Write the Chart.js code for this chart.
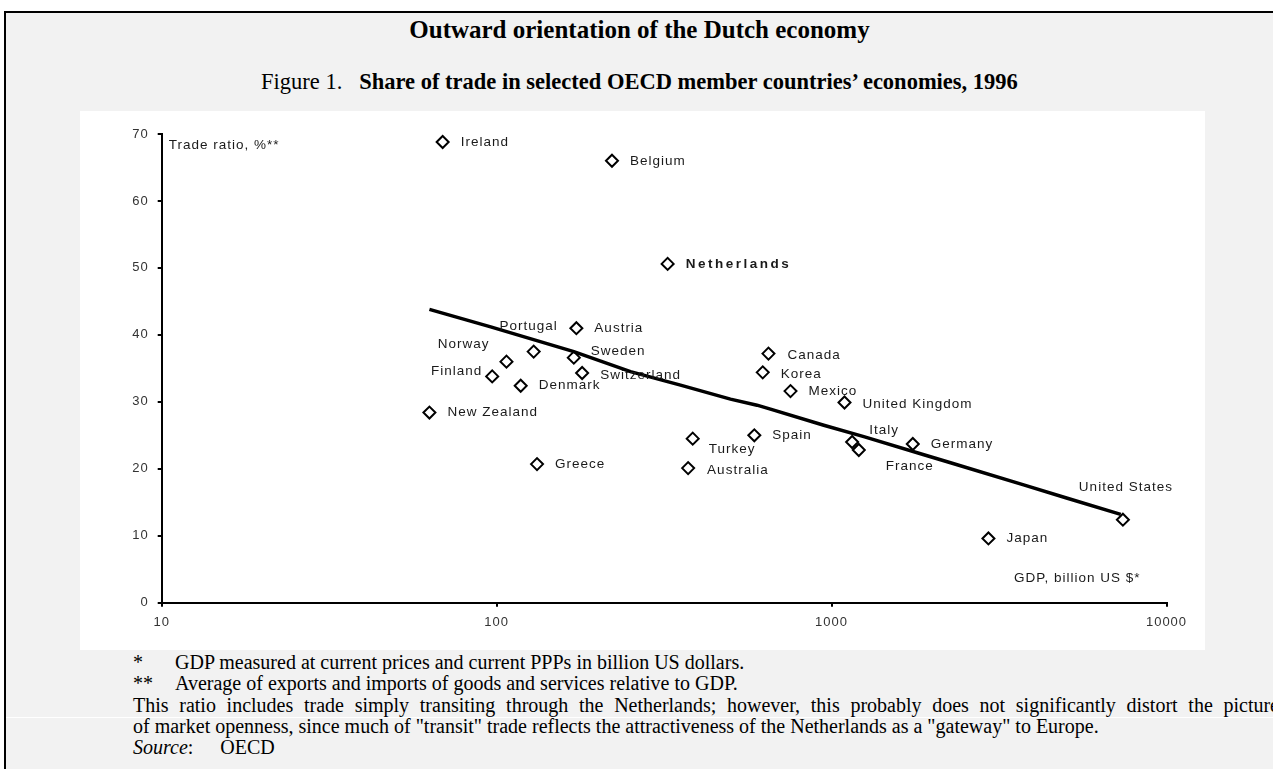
<!DOCTYPE html>
<html>
<head>
<meta charset="utf-8">
<script src="https://cdn.jsdelivr.net/npm/chart.js@4/dist/chart.umd.min.js"></script>
<style>
  html, body { margin: 0; padding: 0; background: #fff; }
  body { width: 1273px; height: 769px; position: relative; overflow: hidden;
         font-family: "Liberation Serif", "Times New Roman", serif; color: #000; }
  #frame { position: absolute; left: 4px; top: 11px; width: 1269px; height: 758px;
           background: #f2f2f2; border-left: 2px solid #000; border-top: 2px solid #000; }
  .title { position: absolute; left: 6px; width: 1267px; text-align: center;
           line-height: 26px; white-space: nowrap; }
  #panel { position: absolute; left: 80px; top: 111px; width: 1125px; height: 539px; background: #fff; }
  .note { position: absolute; left: 133px; font-size: 20px; line-height: 21px; white-space: nowrap; }
  .note .mark { display: inline-block; width: 42px; }
  .note .src { display: inline-block; margin-right: 27px; }
  .wide { width: 1146px; white-space: normal; text-align: justify; text-align-last: justify; }
  #rule { position: absolute; left: 6px; top: 717px; width: 1267px; height: 1px; background: #fff; }
</style>
</head>
<body>
<div id="frame"></div>
<div class="title" style="top:17px; font-size:25px; font-weight:bold;">Outward orientation of the Dutch economy</div>
<div class="title" style="top:69px; font-size:22.5px;">Figure 1.&nbsp;&nbsp; <b>Share of trade in selected OECD member countries’ economies, 1996</b></div>
<div id="panel"><canvas id="chart" width="1125" height="539"></canvas></div>
<div class="note" style="top:652px;"><span class="mark">*</span>GDP measured at current prices and current PPPs in billion US dollars.</div>
<div class="note" style="top:673px;"><span class="mark">**</span>Average of exports and imports of goods and services relative to GDP.</div>
<div class="note wide" style="top:695px;">This ratio includes trade simply transiting through the Netherlands; however, this probably does not significantly distort the picture</div>
<div id="rule"></div>
<div class="note" style="top:716px;">of market openness, since much of "transit" trade reflects the attractiveness of the Netherlands as a "gateway" to Europe.</div>
<div class="note" style="top:737px;"><span class="src"><i>Source</i>:</span>OECD</div>
<script>
// GDP (billion US$, PPP) against trade ratio (% of GDP), 1996
const countries = ['Ireland', 'Belgium', 'Netherlands', 'Austria', 'Portugal', 'Norway', 'Sweden',
  'Switzerland', 'Finland', 'Denmark', 'New Zealand', 'Greece', 'Canada', 'Korea', 'Mexico',
  'United Kingdom', 'Turkey', 'Spain', 'Australia', 'Italy', 'France', 'Germany', 'United States', 'Japan'];
const gdp = [69, 221, 324, 173, 129, 107, 170, 180, 97, 118, 63, 132, 648, 623, 754,
  1093, 385, 588, 373, 1152, 1206, 1748, 7410, 2940];
const tradeRatio = [68.8, 66.0, 50.6, 41.0, 37.5, 36.0, 36.6, 34.3, 33.8, 32.4, 28.4, 20.7, 37.2, 34.4, 31.6,
  29.9, 24.5, 25.0, 20.1, 24.0, 22.8, 23.7, 12.4, 9.6];

// fitted trend, sampled along GDP
const trendGdp = [63, 96, 170, 251, 354, 499, 599, 657, 948, 1248, 1886, 2266, 3745, 5058, 7300];
const trendRatio = [43.8, 41.2, 37.5, 34.5, 32.5, 30.4, 29.5, 28.9, 26.5, 24.8, 22.1, 20.9, 17.6, 15.6, 13.2];

const xTicks = [10, 100, 1000, 10000];
const yTicks = [0, 10, 20, 30, 40, 50, 60, 70];
const yTitle = 'Trade ratio, %**';
const xTitle = 'GDP, billion US $*';

// where each country name sits relative to its marker: [dx, dy, align]
const labelPlace = {
  'Portugal': [-5, -25, 'center'], 'Norway': [-17, -17, 'right'], 'Finland': [-10, -5, 'right'],
  'Sweden': [17, -6, 'left'], 'Turkey': [16, 11, 'left'], 'Italy': [17, -12, 'left'],
  'France': [27, 16, 'left'], 'United States': [3, -32, 'center'], 'Canada': [19, 2, 'left'],
  'Korea': [18, 2, 'left'], 'United Kingdom': [18, 2, 'left'], 'Australia': [19, 2, 'left'],
  'Switzerland': [18, 2, 'left']
};

const LABEL_FONT = '13.5px "Liberation Sans", Arial, sans-serif';

const pointLabels = {
  id: 'pointLabels',
  beforeDraw(chart) {
    chart.ctx.letterSpacing = '1px';
  },
  afterDatasetsDraw(chart) {
    const ctx = chart.ctx;
    const xs = chart.scales.x, ys = chart.scales.y;
    const area = chart.chartArea;
    ctx.save();
    ctx.fillStyle = '#1a1a1a';
    ctx.textBaseline = 'middle';
    countries.forEach((name, i) => {
      const px = xs.getPixelForValue(gdp[i]);
      const py = ys.getPixelForValue(tradeRatio[i]);
      const p = labelPlace[name] || [18, 0, 'left'];
      if (name === 'Netherlands') {
        ctx.font = 'bold 13.5px "Liberation Sans", Arial, sans-serif';
        ctx.letterSpacing = '2.5px';
      } else {
        ctx.font = LABEL_FONT;
        ctx.letterSpacing = '1px';
      }
      ctx.textAlign = p[2];
      ctx.fillText(name, px + p[0], py + p[1]);
    });
    ctx.letterSpacing = '1px';
    ctx.font = LABEL_FONT;
    ctx.textAlign = 'left';
    ctx.fillText(yTitle, area.left + 7, area.top + 11);
    ctx.textAlign = 'right';
    ctx.fillText(xTitle, area.right - 26, area.bottom - 24);
    ctx.restore();
  }
};

new Chart(document.getElementById('chart'), {
  type: 'scatter',
  data: {
    datasets: [
      {
        data: gdp.map((g, i) => ({ x: g, y: tradeRatio[i] })),
        pointStyle: 'rectRot',
        pointRadius: 6,
        pointBorderWidth: 2,
        pointBorderColor: '#000',
        pointBackgroundColor: 'rgba(255,255,255,0)',
        showLine: false,
        order: 1
      },
      {
        data: trendGdp.map((g, i) => ({ x: g, y: trendRatio[i] })),
        showLine: true,
        borderColor: '#000',
        borderWidth: 3.5,
        pointRadius: 0,
        tension: 0,
        order: 2
      }
    ]
  },
  options: {
    responsive: false,
    animation: false,
    layout: { padding: { top: 23, right: 38.5, left: 0, bottom: 0 } },
    plugins: { legend: { display: false }, tooltip: { enabled: false } },
    scales: {
      x: {
        type: 'logarithmic',
        min: 10,
        max: 10000,
        afterBuildTicks: s => { s.ticks = xTicks.map(v => ({ value: v })); },
        afterFit: s => { s.height = 47.3; },
        border: { display: true, color: '#000', width: 2 },
        grid: { drawOnChartArea: false, drawTicks: true, tickLength: 4, color: '#000', lineWidth: 2 },
        ticks: { color: '#333', font: { size: 13, family: '"Liberation Sans", Arial, sans-serif' },
                 padding: 8, maxRotation: 0, callback: v => String(v) }
      },
      y: {
        min: 0,
        max: 70,
        afterBuildTicks: s => { s.ticks = yTicks.map(v => ({ value: v })); },
        afterFit: s => { s.width = 81.7; },
        border: { display: true, color: '#000', width: 2 },
        grid: { drawOnChartArea: false, drawTicks: true, tickLength: 4, color: '#000', lineWidth: 2 },
        ticks: { color: '#333', font: { size: 13, family: '"Liberation Sans", Arial, sans-serif' },
                 padding: 9, callback: v => String(v) }
      }
    }
  },
  plugins: [pointLabels]
});
</script>
</body>
</html>
